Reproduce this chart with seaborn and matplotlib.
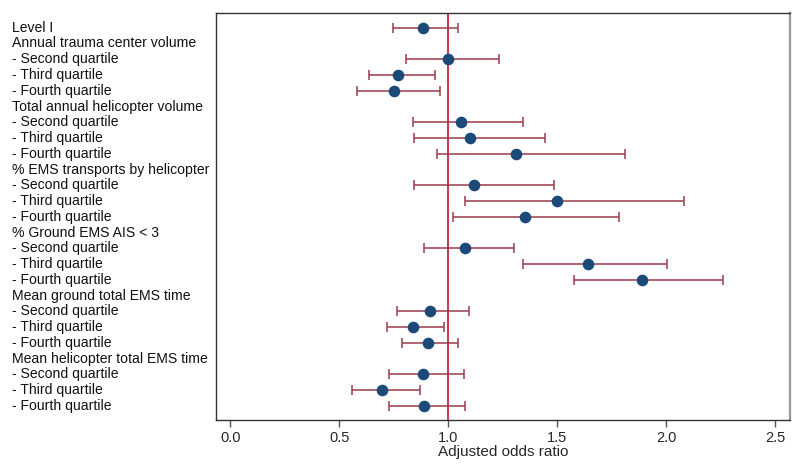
import matplotlib
matplotlib.use("Agg")
import matplotlib.pyplot as plt
import matplotlib.transforms as mtransforms
import seaborn as sns
import pandas as pd
import numpy as np

labels = [
    "Level I",
    "Annual trauma center volume",
    "- Second quartile", "- Third quartile", "- Fourth quartile",
    "Total annual helicopter volume",
    "- Second quartile", "- Third quartile", "- Fourth quartile",
    "% EMS transports by helicopter",
    "- Second quartile", "- Third quartile", "- Fourth quartile",
    "% Ground EMS AIS < 3",
    "- Second quartile", "- Third quartile", "- Fourth quartile",
    "Mean ground total EMS time",
    "- Second quartile", "- Third quartile", "- Fourth quartile",
    "Mean helicopter total EMS time",
    "- Second quartile", "- Third quartile", "- Fourth quartile",
]
nan = np.nan
odds = [0.884, nan, 0.997, 0.770, 0.751, nan, 1.060, 1.101, 1.309, nan,
        1.118, 1.496, 1.350, nan, 1.075, 1.641, 1.887, nan,
        0.915, 0.837, 0.908, nan, 0.882, 0.697, 0.887]
lower = [0.746, nan, 0.806, 0.638, 0.583, nan, 0.837, 0.840, 0.947, nan,
         0.840, 1.075, 1.023, nan, 0.889, 1.343, 1.578, nan,
         0.763, 0.717, 0.789, nan, 0.728, 0.557, 0.728]
upper = [1.044, nan, 1.234, 0.940, 0.963, nan, 1.343, 1.444, 1.809, nan,
         1.486, 2.083, 1.783, nan, 1.300, 2.003, 2.259, nan,
         1.095, 0.982, 1.043, nan, 1.073, 0.869, 1.078]
xticks = [0.0, 0.5, 1.0, 1.5, 2.0, 2.5]

df = pd.DataFrame({"label": labels, "or": odds, "lo": lower, "hi": upper})
df["row"] = np.arange(len(df))
d = df.dropna()

sns.set_style("white")
plt.rcParams["font.family"] = ["Liberation Sans", "DejaVu Sans"]

fig = plt.figure(figsize=(8, 4.67), dpi=100)
ax = fig.add_axes([0.27, 0.1006, 0.7175, 0.8714])

ax.axvline(1.0, color="#c8364f", lw=1.4, zorder=1)
ax.errorbar(d["or"], d["row"], xerr=[d["or"] - d["lo"], d["hi"] - d["or"]],
            fmt="none", ecolor="#9c3b4d", elinewidth=1.1, capsize=3.5,
            capthick=1.1, zorder=2)
sns.scatterplot(data=d, x="or", y="row", ax=ax, color="#1b4a79", s=70,
                edgecolor="#1b4a79", linewidth=0, zorder=3, legend=False)

ax.set_ylim(24.9, -0.93)
ax.set_xlim(-0.066, 2.567)
ax.set_xticks(xticks)
ax.set_xticklabels([f"{t:.1f}" for t in xticks], fontsize=10.5)
ax.set_yticks([])
ax.set_ylabel("")
ax.set_xlabel("Adjusted odds ratio", fontsize=11, labelpad=0)
ax.tick_params(axis="x", bottom=True, length=5, width=1, color="#555555", pad=3)

for s in ["left", "bottom", "top"]:
    ax.spines[s].set_color("#333333")
    ax.spines[s].set_linewidth(1.0)
ax.spines["right"].set_color("#999999")
ax.spines["right"].set_linewidth(1.6)

trans = mtransforms.blended_transform_factory(fig.transFigure, ax.transData)
for i, lab in enumerate(labels):
    ax.text(12 / 800, i, lab, transform=trans, ha="left", va="center",
            fontsize=10.1, color="#111111", clip_on=False)

fig.savefig("out.png", dpi=100)
